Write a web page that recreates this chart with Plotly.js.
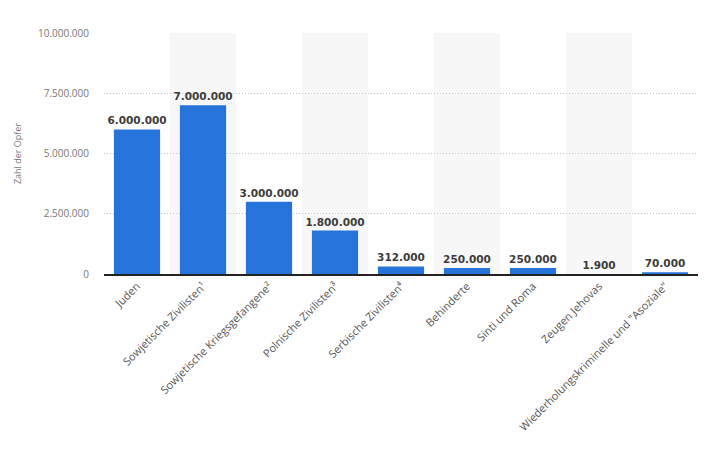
<!DOCTYPE html>
<html><head><meta charset="utf-8">
<script src="https://cdn.plot.ly/plotly-3.0.1.min.js"></script>
<style>html,body{margin:0;padding:0;background:#fff}</style>
</head><body>
<div id="chart" style="width:710px;height:458px"></div>
<script>
const categories = ["Juden","Sowjetische Zivilisten¹","Sowjetische Kriegsgefangene²","Polnische Zivilisten³","Serbische Zivilisten⁴","Behinderte","Sinti und Roma","Zeugen Jehovas","Wiederholungskriminelle und \"Asoziale\""];
const victims = [6000000,7000000,3000000,1800000,312000,250000,250000,1900,70000];
const yTicks = [0,2500000,5000000,7500000,10000000];

const shapes = [];
categories.forEach((c,i)=>{
  if(i%2===1){
    shapes.push({type:'rect',xref:'x',yref:'paper',x0:i-0.5,x1:i+0.5,y0:0,y1:1,
      fillcolor:'#f7f7f7',line:{width:0},layer:'below'});
  }
});

const trace = {
  type:'bar',
  x: categories.map((c,i)=>i),
  y: victims,
  marker:{color:'#2673d9'},
  texttemplate:'<b>%{y:,}</b>',
  textposition:'outside',
  constraintext:'none',
  cliponaxis:false,
  textfont:{family:'"DejaVu Sans", sans-serif',size:10.5,color:'#3c3c3c'},
  hoverinfo:'none'
};

const layout = {
  width:710,height:458,
  margin:{l:104,r:12,t:33,b:184},
  paper_bgcolor:'#fff',plot_bgcolor:'rgba(0,0,0,0)',
  separators:',.',
  showlegend:false,
  bargap:0.3,
  shapes:shapes,
  uniformtext:{mode:false},
  font:{family:'"Open Sans", sans-serif',color:'#666'},
  xaxis:{
    tickmode:'array',tickvals:categories.map((c,i)=>i),ticktext:categories,
    range:[-0.5,categories.length-0.5],
    tickangle:-45,tickfont:{size:11,color:'#555'},
    showline:true,linecolor:'#222',linewidth:1.5,ticks:'',showgrid:false,zeroline:false
  },
  yaxis:{
    range:[0,10000000],tickmode:'array',tickvals:yTicks,tickformat:',d',
    tickfont:{size:10,color:'#777'},
    ticklabelstandoff:14,
    showgrid:true,gridcolor:'#c4c4c4',griddash:'1px,2px',gridwidth:1,
    zeroline:false,showline:false,ticks:'',ticklen:0,
    title:{text:'Zahl der Opfer',font:{size:9,color:'#777'},standoff:14}
  }
};

Plotly.newPlot('chart',[trace],layout,{staticPlot:true});
</script>
</body></html>
